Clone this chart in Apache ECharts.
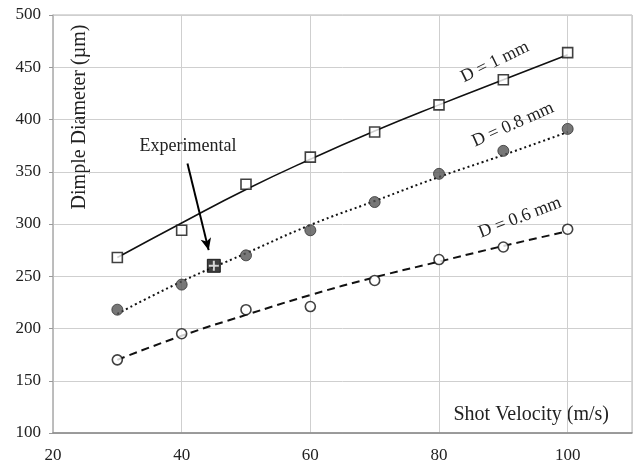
<!DOCTYPE html>
<html>
<head>
<meta charset="utf-8">
<script src="https://cdn.jsdelivr.net/npm/echarts@6/dist/echarts.min.js"></script>
<style>
  html, body { margin: 0; padding: 0; background: #fff; }
  #chart { width: 634px; height: 465px; }
</style>
</head>
<body>
<div id="chart"></div>
<script>
// shot velocity (m/s)
const velocity = [30, 40, 50, 60, 70, 80, 90, 100];

// simulated points (µm)
const d10Points = [268, 294, 338, 364, 388, 414, 438, 464];
const d08Points = [218, 242, 270, 294, 321, 348, 370, 391];
const d06Points = [170, 195, 218, 221, 246, 266, 278, 295];

// fitted curves
const d10Fit = [268, 301, 333, 362, 389, 414, 438, 462];
const d08Fit = [214, 245, 272, 299, 322, 345, 366, 388];
const d06Fit = [170, 193, 213, 232, 249, 264, 279, 293];

// experimental measurement
const expVelocity = [45];
const expDiameter = [260];

const font = 'Liberation Serif';

const pairs = (xs, ys) => xs.map((x, i) => [x, ys[i]]);

const fitLine = (data, type) => ({
  type: 'line',
  data: pairs(velocity, data),
  smooth: true,
  showSymbol: false,
  silent: true,
  z: 1,
  lineStyle: { color: '#111', width: type === 'solid' ? 1.6 : 2, type: type }
});

const annot = (text, coord, rotate) => ({
  coord: coord,
  symbolSize: 0,
  label: { show: true, formatter: text, rotate: rotate, fontFamily: font, fontSize: 18, color: '#222', position: 'inside' }
});

const chart = echarts.init(document.getElementById('chart'));
chart.setOption({
  animation: false,
  backgroundColor: '#fff',
  grid: { left: 53, right: 2, top: 15, bottom: 32, show: true, borderColor: '#b5b5b5', borderWidth: 1 },
  xAxis: {
    type: 'value', min: 20, max: 110, interval: 20,
    axisLine: { show: true, lineStyle: { color: '#888', width: 1.5 } },
    axisTick: { show: false },
    axisLabel: { showMaxLabel: false, fontFamily: font, fontSize: 17, color: '#222', margin: 14 },
    splitLine: { lineStyle: { color: '#cfcfcf', width: 1 } }
  },
  yAxis: {
    type: 'value', min: 100, max: 500, interval: 50,
    axisLine: { show: true, lineStyle: { color: '#b5b5b5', width: 1.5 } },
    axisTick: { show: true, length: 4, lineStyle: { color: '#999' } },
    axisLabel: { fontFamily: font, fontSize: 17, color: '#222', margin: 12 },
    splitLine: { lineStyle: { color: '#cfcfcf', width: 1 } }
  },
  graphic: [
    { type: 'text', x: 80, y: 117, rotation: Math.PI / 2,
      style: { text: 'Dimple Diameter (µm)', font: '20px "Liberation Serif"', fill: '#222', align: 'center', verticalAlign: 'middle' } },
    { type: 'text', x: 609, y: 415,
      style: { text: 'Shot Velocity (m/s)', font: '20px "Liberation Serif"', fill: '#222', align: 'right', verticalAlign: 'middle' } }
  ],
  series: [
    fitLine(d10Fit, 'solid'),
    fitLine(d08Fit, [2, 3]),
    fitLine(d06Fit, [8, 5]),
    {
      type: 'scatter', data: pairs(velocity, d10Points), symbol: 'rect', symbolSize: 10, z: 3,
      itemStyle: { color: '#fff', borderColor: '#111', borderWidth: 1.6 },
      markPoint: { silent: true, data: [annot('D = 1 mm', [88.7, 455], 26)] }
    },
    {
      type: 'scatter', data: pairs(velocity, d08Points), symbol: 'circle', symbolSize: 11, z: 3,
      itemStyle: { color: '#555', borderColor: '#333', borderWidth: 1 },
      markPoint: { silent: true, data: [annot('D = 0.8 mm', [91.5, 395], 24)] }
    },
    {
      type: 'scatter', data: pairs(velocity, d06Points), symbol: 'circle', symbolSize: 10, z: 3,
      itemStyle: { color: '#fff', borderColor: '#111', borderWidth: 1.6 },
      markPoint: { silent: true, data: [annot('D = 0.6 mm', [92.6, 306], 21)] }
    },
    {
      type: 'scatter', data: pairs(expVelocity, expDiameter), symbol: 'rect', symbolSize: 13, z: 3,
      itemStyle: { color: '#111', borderColor: '#000', borderWidth: 1 },
      markPoint: { silent: true, data: [annot('Experimental', [41.0, 374], 0)] },
      markLine: {
        silent: true, symbol: ['none', 'arrow'], symbolSize: [8, 12],
        lineStyle: { color: '#000', width: 2, type: 'solid' },
        label: { show: false },
        data: [[{ coord: [40.9, 358] }, { coord: [44.2, 275] }]]
      }
    },
    {
      type: 'scatter', data: pairs(expVelocity, expDiameter), symbol: 'path://M4,0H6V4H10V6H6V10H4V6H0V4H4Z', symbolSize: 10, z: 4,
      silent: true, itemStyle: { color: '#fff' }
    }
  ]
});
</script>
</body>
</html>
